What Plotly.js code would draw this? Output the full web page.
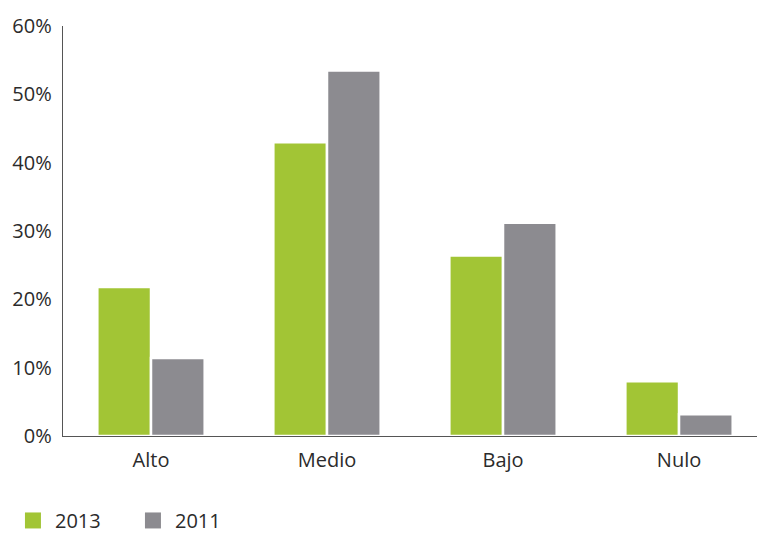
<!DOCTYPE html>
<html>
<head>
<meta charset="utf-8">
<script src="https://cdn.plot.ly/plotly-3.0.1.min.js"></script>
<style>html,body{margin:0;padding:0;background:#fff;}#chart{width:757px;height:534px;}</style>
</head>
<body>
<div id="chart"></div>
<script>
const categories = ["Alto", "Medio", "Bajo", "Nulo"];
const values2013 = [21.8, 43.0, 26.4, 8.0];
const values2011 = [11.4, 53.5, 31.2, 3.2];
const seriesNames = ["2013", "2011"];
const seriesColors = ["#a2c535", "#8c8b90"];
const yTicks = [0, 10, 20, 30, 40, 50, 60];
const yTickLabels = ["0%", "10%", "20%", "30%", "40%", "50%", "60%"];

const font = {family: "Open Sans, sans-serif", size: 20, color: "#2b2b2b"};

const barSeries = [values2013, values2011];
const traces = [];
barSeries.forEach((vals, i) => {
  traces.push({type: "bar", name: seriesNames[i], x: categories, y: vals, showlegend: false,
    marker: {color: seriesColors[i], line: {color: "#ffffff", width: 2.5}}});
});
// legend entries (square swatches)
seriesNames.forEach((nm, i) => {
  traces.push({type: "scatter", mode: "markers", name: nm, x: [null], y: [null],
    marker: {symbol: "square", size: 16, color: seriesColors[i]}, showlegend: true});
});

const layout = {
  width: 757, height: 534,
  margin: {l: 63, r: 0, t: 26, b: 98, autoexpand: false},
  paper_bgcolor: "#ffffff", plot_bgcolor: "#ffffff",
  font: font,
  barmode: "group",
  bargap: 0.39,
  bargroupgap: 0,
  showlegend: true,
  legend: {orientation: "h", x: -0.075, xanchor: "left", y: -0.206, yanchor: "middle",
           font: font, entrywidth: 71, entrywidthmode: "pixels", itemclick: false,
           itemsizing: "trace", itemwidth: 34},
  xaxis: {range: [-0.5, 3.443], showline: true, linecolor: "#555555", linewidth: 1.3,
          showgrid: false, zeroline: false, ticks: "", layer: "below traces",
          ticklabelstandoff: 6, tickfont: font, fixedrange: true},
  yaxis: {range: [0, 60], tickvals: yTicks, ticktext: yTickLabels, showline: true,
          linecolor: "#555555", linewidth: 1.3, showgrid: false, zeroline: false,
          ticks: "", ticklabelstandoff: 6, tickfont: font, layer: "below traces", fixedrange: true}
};

Plotly.newPlot("chart", traces, layout, {displayModeBar: false, staticPlot: true});
</script>
</body>
</html>
